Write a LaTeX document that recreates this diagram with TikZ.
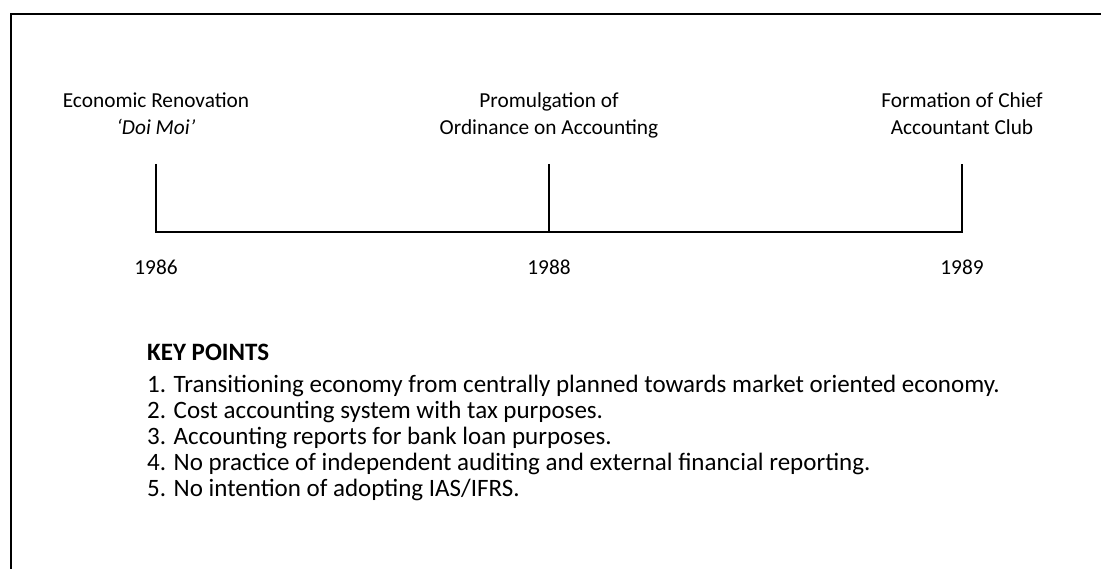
\documentclass[tikz,border=0pt]{standalone}
\usepackage{fontspec}
\setmainfont{Carlito}
\begin{document}
\begin{tikzpicture}[x=1pt,y=-1pt,
  txt/.style={inner sep=0pt,anchor=base,font=\fontsize{21.33}{26}\selectfont},
  pt/.style={inner sep=0pt,anchor=base west,font=\fontsize{25}{26}\selectfont},
  frame/.style={line width=2pt},
  axis/.style={line width=2pt}]
\useasboundingbox (0,0) rectangle (1101,569);
% open frame: top and left edges only
\draw[frame] (11,569) -- (11,14) -- (1101,14);

% timeline
\coordinate (t1) at (156,232);
\coordinate (t2) at (549,232);
\coordinate (t3) at (962,232);
\coordinate (u1) at (156,164);
\coordinate (u2) at (549,164);
\coordinate (u3) at (962,164);
\draw[axis] (u1) -- (t1) -- (t3) -- (u3);
\draw[axis] (u2) -- (t2);

% event labels
\node[txt] (e1a) at (156,108) {Economic Renovation};
\node[txt] (e1b) at (156,135) {\itshape ‘Doi Moi’};
\node[txt] (e2a) at (549,108) {Promulgation of};
\node[txt] (e2b) at (549,135) {Ordinance on Accounting};
\node[txt] (e3a) at (962,108) {Formation of Chief};
\node[txt] (e3b) at (962,135) {Accountant Club};

% years
\node[txt] (y1) at (156,275) {1986};
\node[txt] (y2) at (549,275) {1988};
\node[txt] (y3) at (962,275) {1989};

% key points
\node[pt] (kp) at (147,361) {\bfseries KEY POINTS};
\node[pt] (k1) at (147,392) {1. Transitioning economy from centrally planned towards market oriented economy.};
\node[pt] (k2) at (147,418) {2. Cost accounting system with tax purposes.};
\node[pt] (k3) at (147,444) {3. Accounting reports for bank loan purposes.};
\node[pt] (k4) at (147,470) {4. No practice of independent auditing and external financial reporting.};
\node[pt] (k5) at (147,496) {5. No intention of adopting IAS/IFRS.};
\end{tikzpicture}
\end{document}
